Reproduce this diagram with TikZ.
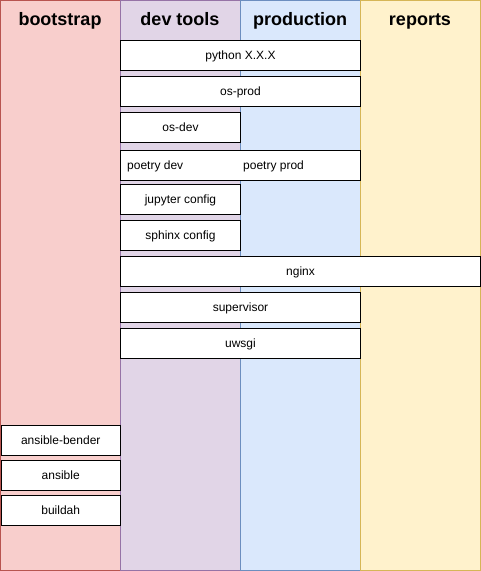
\documentclass[tikz,border=0pt]{standalone}
\usepackage{fontspec}
\setmainfont{Liberation Sans}
\usetikzlibrary{positioning}
\definecolor{bootfill}{HTML}{F8CECC}
\definecolor{bootline}{HTML}{B85450}
\definecolor{devfill}{HTML}{E1D5E7}
\definecolor{devline}{HTML}{9673A6}
\definecolor{prodfill}{HTML}{DAE8FC}
\definecolor{prodline}{HTML}{6C8EBF}
\definecolor{repfill}{HTML}{FFF2CC}
\definecolor{repline}{HTML}{D6B656}

\begin{document}
\begin{tikzpicture}[x=1pt,y=-1pt,
  lane/.style={draw=#1line,fill=#1fill,line width=1pt},
  head/.style={anchor=base,font=\bfseries\fontsize{18}{20}\selectfont},
  box/.style={draw=black,fill=white,line width=1pt,inner sep=0pt,
    minimum height=30pt,minimum width=#1,anchor=north west,
    text height=8.6pt,text depth=0pt,
    font=\fontsize{12}{14}\selectfont},
  box/.default=120pt,
  boxtext/.style={anchor=base west,inner sep=0pt,font=\fontsize{12}{14}\selectfont}]
 	\useasboundingbox (0,0) rectangle (481,571);
 	% swim lanes
 	\draw[lane=boot] (0.5,0.5) rectangle (120,570.5);
 	\draw[lane=dev] (120,0.5) rectangle (240,570.5);
 	\draw[lane=prod] (240,0.5) rectangle (360,570.5);
 	\draw[lane=rep] (360,0.5) rectangle (480.5,570.5);
 	\node[head] (bootstrap) at (60,25) {bootstrap};
 	\node[head] (devtools) at (180,25) {dev tools};
 	\node[head] (production) at (300,25) {production};
 	\node[head] (reports) at (420,25) {reports};
 	% dev / prod boxes
 	\node[box=240pt] (python) at (120,40) {python X.X.X};
 	\node[box=240pt] (osprod) at (120,76) {os-prod};
 	\node[box] (osdev) at (120,112) {os-dev};
 	\node[box=240pt] (poetry) at (120,150) {};
 	\node[boxtext] (poetrydev) at (127,169.3) {poetry dev};
 	\node[boxtext] (poetryprod) at (243,169.3) {poetry prod};
 	\node[box] (jupyter) at (120,184) {jupyter config};
 	\node[box] (sphinx) at (120,220) {sphinx config};
 	\node[box=360pt] (nginx) at (120,256) {nginx};
 	\node[box=240pt] (supervisor) at (120,292) {supervisor};
 	\node[box=240pt] (uwsgi) at (120,328) {uwsgi};
 	% bootstrap boxes
 	\node[box=119.5pt] (bender) at (0.5,425) {ansible-bender};
 	\node[box=119.5pt] (ansible) at (0.5,460) {ansible};
 	\node[box=119.5pt] (buildah) at (0.5,495) {buildah};
\end{tikzpicture}
\end{document}
